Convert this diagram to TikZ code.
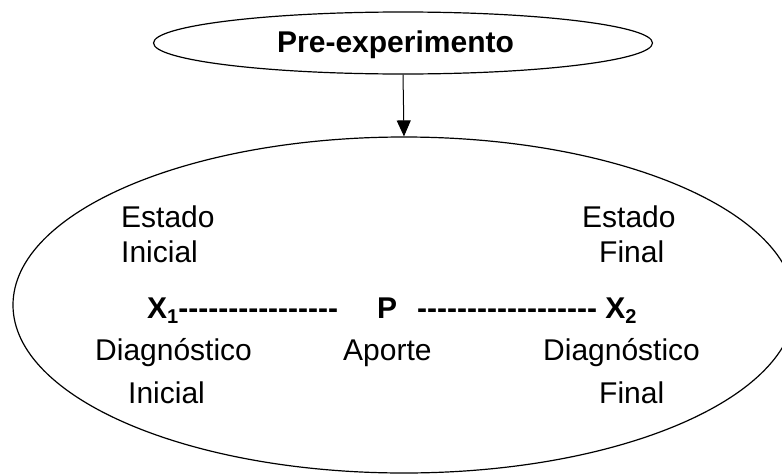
\documentclass[tikz,border=0pt]{standalone}
\usepackage{fontspec}
\setmainfont{Liberation Sans}[Ligatures=TeXOff]
\usetikzlibrary{arrows.meta,shapes.geometric}
\begin{document}
\begin{tikzpicture}[x=1pt,y=-1pt,
  txt/.style={anchor=base west,inner sep=0pt,font=\fontsize{30}{35}\selectfont},
  btxt/.style={txt,font=\fontsize{30}{35}\selectfont\bfseries},
  oval/.style={draw,ellipse,line width=1.2pt,inner sep=0pt},
  link/.style={line width=1pt,-{Triangle[width=14pt,length=16pt]}}]
\clip (0,0) rectangle (782,474);
\fill[white] (0,0) rectangle (782,474);
\node[oval,minimum width=499pt,minimum height=62pt] (top) at (403,43) {};
\node[btxt] (pre) at (277,52) {Pre-experimento};
\node[oval,minimum width=782pt,minimum height=336pt] (big) at (404,305) {};
\draw[link] (top.south) -- (big.north);
\node[txt] (ei1) at (121,227) {Estado};
\node[txt] (ei2) at (121,262) {Inicial};
\node[txt] (ef1) at (582,227) {Estado};
\node[txt] (ef2) at (599,262) {Final};
\node[btxt] (x1) at (147,318) {X\raisebox{-5pt}{\fontsize{20}{20}\selectfont 1}----------------};
\node[btxt] (p) at (377,318) {P};
\node[btxt] (x2) at (417,318) {------------------ X\raisebox{-5pt}{\fontsize{20}{20}\selectfont 2}};
\node[txt] (di1) at (95,360) {Diagnóstico};
\node[txt] (di2) at (128,403) {Inicial};
\node[txt] (ap) at (343,360) {Aporte};
\node[txt] (df1) at (543,360) {Diagnóstico};
\node[txt] (df2) at (599,403) {Final};
\end{tikzpicture}
\end{document}
